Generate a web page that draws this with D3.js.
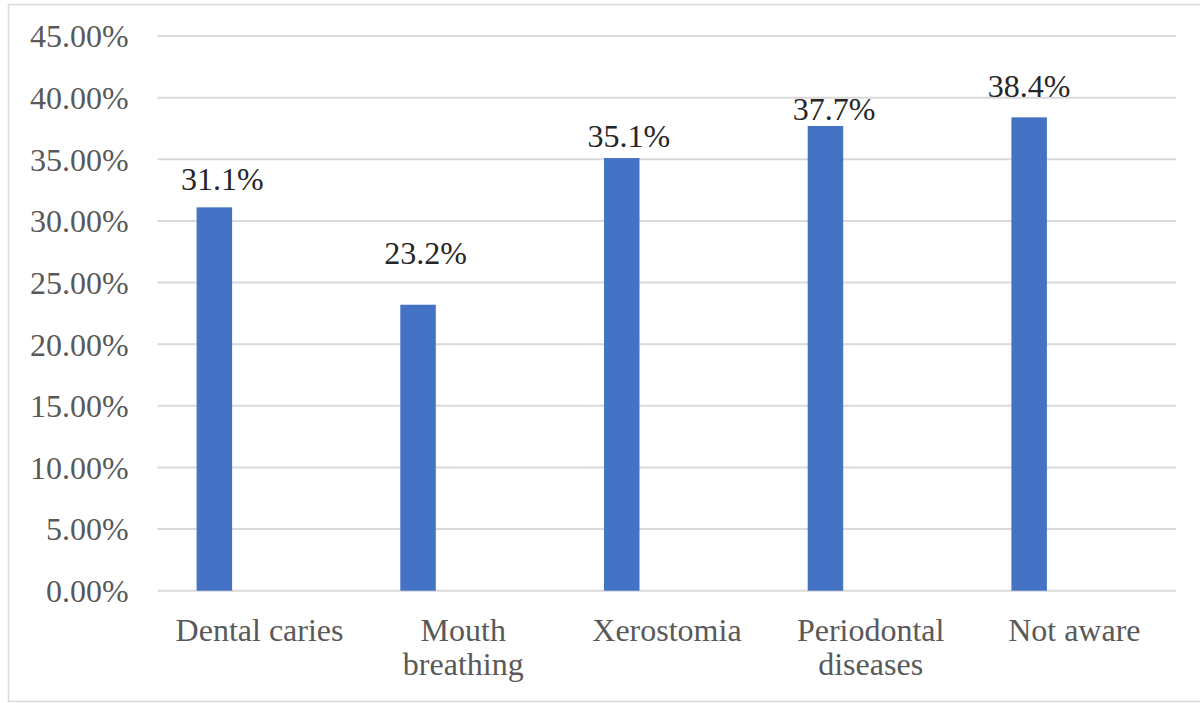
<!DOCTYPE html>
<html>
<head>
<meta charset="utf-8">
<script src="https://cdn.jsdelivr.net/npm/d3@7"></script>
<style>
  html, body { margin: 0; padding: 0; background: #fff; }
  svg { display: block; }
  text { font-family: "Liberation Serif", "Times New Roman", serif; }
</style>
</head>
<body>
<svg id="chart" width="1200" height="703"></svg>
<script>
// Awareness of oral effects – share of respondents per answer
const categories = [["Dental caries"], ["Mouth", "breathing"], ["Xerostomia"], ["Periodontal", "diseases"], ["Not aware"]];
const values = [31.1, 23.2, 35.1, 37.7, 38.4];
const tickValues = [0, 5, 10, 15, 20, 25, 30, 35, 40, 45];

// hand-placed label nudges (dx, lift above bar top)
const labelDx = [8, 7.5, 7, 8.7, 0];
const labelLift = [17, 41, 11, 6, 20.6];

const svg = d3.select("#chart");
const W = 1200, H = 703;
const plotLeft = 157.7, plotRight = 1176.2, plotTop = 36, plotBottom = 590.7;

// outer chart frame
svg.append("rect")
  .attr("x", 8.5).attr("y", 4.5)
  .attr("width", W + 10).attr("height", 697)
  .attr("fill", "#fff").attr("stroke", "#d9d9d9").attr("stroke-width", 1.5);

const x = d3.scaleBand()
  .domain(d3.range(categories.length))
  .range([plotLeft, plotRight])
  .padding(0);

const y = d3.scaleLinear().domain([0, 45]).range([plotBottom, plotTop]);

// horizontal gridlines
svg.append("g")
  .selectAll("line")
  .data(tickValues)
  .join("line")
  .attr("x1", plotLeft).attr("x2", plotRight)
  .attr("y1", d => y(d)).attr("y2", d => y(d))
  .attr("stroke", "#d9d9d9").attr("stroke-width", 2);

// y axis labels
const yAxis = d3.axisLeft(y)
  .tickValues(tickValues)
  .tickFormat(d => d.toFixed(2) + "%")
  .tickSize(0)
  .tickPadding(29);
const gy = svg.append("g").attr("transform", `translate(${plotLeft},0)`).call(yAxis);
gy.select(".domain").remove();
gy.selectAll("text")
  .attr("font-family", "Liberation Serif, Times New Roman, serif")
  .attr("font-size", 32)
  .attr("fill", "#595959")
  .attr("dy", "0.34em");

// bars: drawn left of the category centre, as in a two-series cluster
const barW = 35.5;
const barOffset = -45.2;
const cx = i => x(i) + x.bandwidth() / 2;

svg.append("g")
  .selectAll("rect")
  .data(values)
  .join("rect")
  .attr("x", (d, i) => cx(i) + barOffset - barW / 2)
  .attr("y", d => y(d))
  .attr("width", barW)
  .attr("height", d => y(0) - y(d))
  .attr("fill", "#4472c4");

// value labels
svg.append("g")
  .selectAll("text")
  .data(values)
  .join("text")
  .attr("x", (d, i) => cx(i) + barOffset + labelDx[i])
  .attr("y", (d, i) => y(d) - labelLift[i])
  .attr("text-anchor", "middle")
  .attr("font-size", 32)
  .attr("fill", "#262626")
  .text(d => d.toFixed(1) + "%");

// category labels (wrapped)
const cat = svg.append("g")
  .selectAll("text")
  .data(categories)
  .join("text")
  .attr("x", (d, i) => cx(i))
  .attr("y", 641)
  .attr("text-anchor", "middle")
  .attr("font-size", 32)
  .attr("fill", "#595959");
cat.selectAll("tspan")
  .data(d => d)
  .join("tspan")
  .attr("x", function() { return d3.select(this.parentNode).attr("x"); })
  .attr("dy", (d, i) => i === 0 ? 0 : 34)
  .text(d => d);
</script>
</body>
</html>
